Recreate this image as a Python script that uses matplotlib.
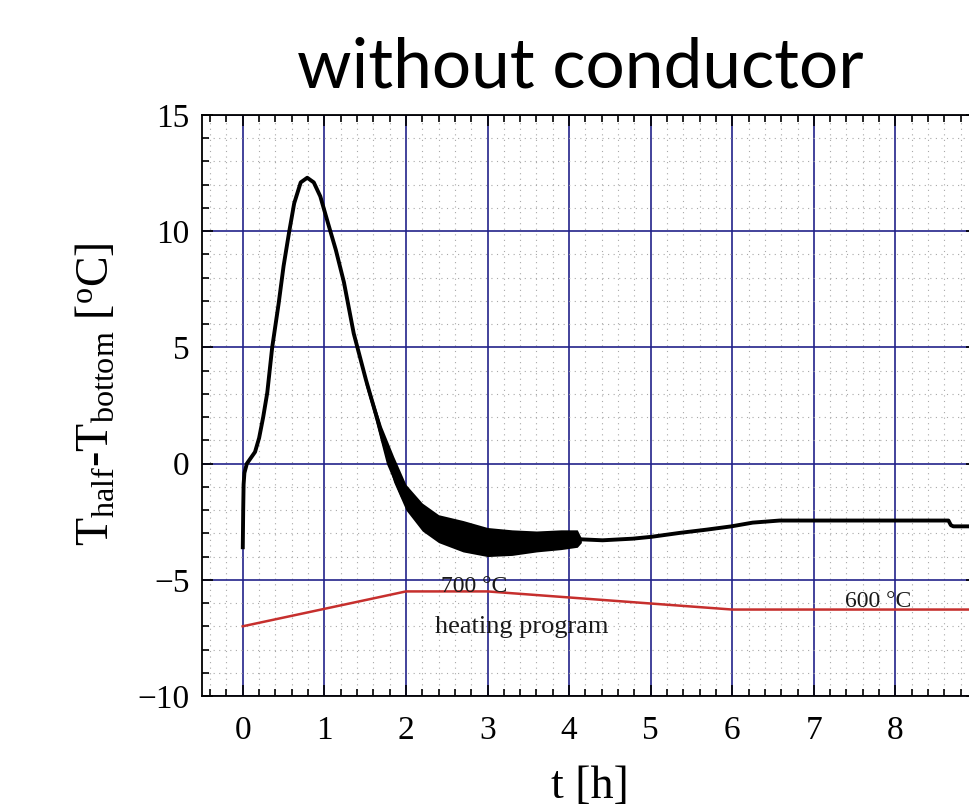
import matplotlib
matplotlib.use("Agg")
import matplotlib.pyplot as plt
from matplotlib.ticker import MultipleLocator

# --- data ---
# measured temperature difference (black curve)
black_t = [0.0, 0.005, 0.01, 0.02, 0.05, 0.1, 0.15, 0.2, 0.25, 0.3, 0.36, 0.44,
           0.5, 0.565, 0.63, 0.71, 0.79, 0.87, 0.95, 1.04, 1.14, 1.24, 1.36,
           1.51, 1.65, 1.79, 1.96, 2.16, 2.41, 2.69, 2.98, 3.31, 3.72, 4.09,
           4.41, 4.78, 5.01, 5.36, 5.69, 5.99, 6.25, 6.58, 6.85, 7.97, 8.65,
           8.68, 8.71, 9.0]
black_v = [-3.6, -2.0, -0.9, -0.4, 0.0, 0.25, 0.5, 1.1, 2.0, 3.05, 4.99, 6.9,
           8.5, 9.9, 11.2, 12.1, 12.3, 12.1, 11.5, 10.4, 9.2, 7.8, 5.6,
           3.6, 1.9, 0.0, -1.4, -2.4, -3.0, -3.27, -3.45, -3.45, -3.35, -3.25,
           -3.3, -3.23, -3.15, -2.98, -2.84, -2.7, -2.54, -2.45, -2.45, -2.45, -2.45,
           -2.65, -2.7, -2.7]

# noisy part of the signal: upper / lower envelope of the band
band_t = [1.5, 1.6, 1.7, 1.85, 2.0, 2.2, 2.4, 2.7, 3.0, 3.3, 3.6, 3.9, 4.1, 4.15]
band_hi = [3.8, 2.7, 1.6, 0.3, -0.9, -1.7, -2.2, -2.45, -2.75, -2.85, -2.9, -2.85, -2.85, -3.2]
band_lo = [3.4, 2.2, 0.9, -0.8, -2.0, -2.9, -3.4, -3.8, -4.0, -3.95, -3.8, -3.7, -3.6, -3.4]

# heating program (red curve)
red_t = [0.0, 2.0, 3.0, 6.0, 9.0]
red_v = [-7.0, -5.5, -5.5, -6.28, -6.28]

x_ticks = [0, 1, 2, 3, 4, 5, 6, 7, 8, 9]
y_ticks = [-10, -5, 0, 5, 10, 15]

# --- styling ---
plt.rcParams['font.family'] = ['Liberation Serif', 'DejaVu Serif']
plt.rcParams['mathtext.fontset'] = 'custom'
plt.rcParams['mathtext.rm'] = 'Liberation Serif'
plt.rcParams['mathtext.it'] = 'Liberation Serif:italic'

GRID_BLUE = '#22228a'

fig = plt.figure(figsize=(9.7, 8.1), dpi=100)
ax = fig.add_axes([202 / 970, 1 - 696 / 810, 775 / 970, 581 / 810])

ax.set_xlim(-0.5, 9.0)
ax.set_ylim(-10, 15)
ax.set_xticks(x_ticks)
ax.set_yticks(y_ticks)
ax.xaxis.set_minor_locator(MultipleLocator(0.2))
ax.yaxis.set_minor_locator(MultipleLocator(1))
ax.set_yticklabels([str(v).replace('-', '\u2212') for v in y_ticks])

ax.grid(which='minor', color='#a8a8a8', linestyle=(0, (1, 4)), linewidth=0.8)
ax.grid(which='major', color=GRID_BLUE, linestyle='-', linewidth=1.2)
ax.set_axisbelow(True)

ax.tick_params(which='both', direction='in', top=True, right=True,
               color='black', width=1.2)
ax.tick_params(which='major', length=8, labelsize=24)
ax.tick_params(axis='x', which='major', pad=14)
ax.tick_params(axis='y', which='major', pad=9)
ax.tick_params(which='minor', length=5)
for sp in ax.spines.values():
    sp.set_linewidth(1.3)

# curves
ax.fill_between(band_t, band_lo, band_hi, color='black', linewidth=0)
ax.plot(black_t, black_v, color='black', linewidth=2.8, zorder=3)
ax.plot(red_t, red_v, color='#c62f2d', linewidth=1.8, zorder=3)

# annotations
ax.text(2.84, -5.3, '700 \u00b0C', fontsize=17, ha='center', va='center', color='#1a1a1a')
ax.text(3.42, -7.05, 'heating program', fontsize=19, ha='center', va='center', color='#1a1a1a')
ax.text(7.79, -5.94, '600 \u00b0C', fontsize=17, ha='center', va='center', color='#1a1a1a')

ax.set_xlabel('t [h]', fontsize=33)
ax.xaxis.set_label_coords(0.5, -0.12)
ax.set_ylabel(r'T$_{\mathrm{half}}$-T$_{\mathrm{bottom}}$ [$^{\mathrm{o}}$C]', fontsize=33)
ax.yaxis.set_label_coords(-0.107, 0.52)

fig.text(580 / 970, 1 - 87 / 810, 'without conductor', family='Lato',
         fontsize=50, ha='center', va='baseline')

fig.savefig('out.png', dpi=100)
